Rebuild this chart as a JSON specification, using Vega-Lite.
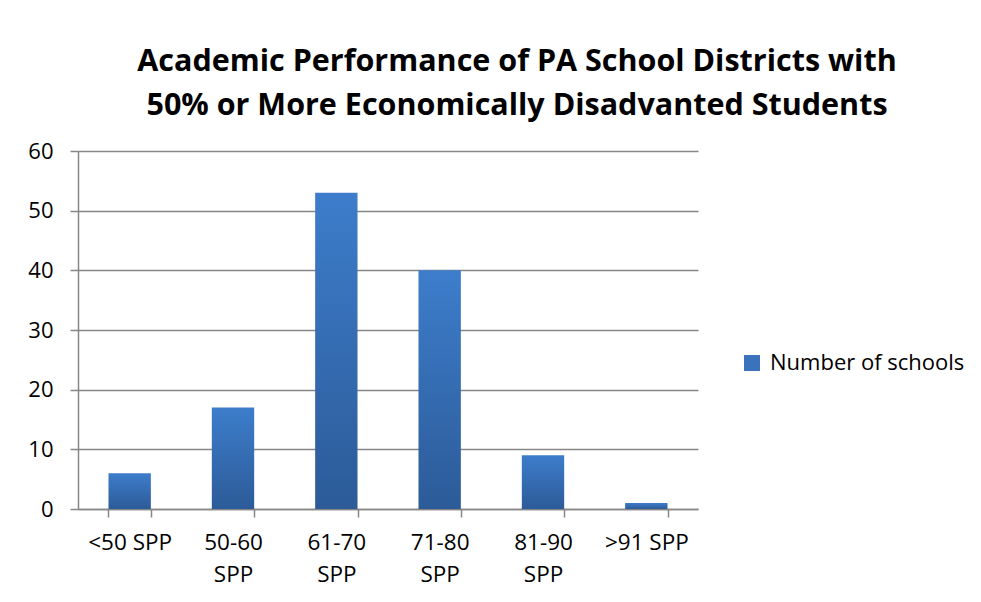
{
  "$schema": "https://vega.github.io/schema/vega-lite/v6.json",
  "autosize": "none",
  "width": 620,
  "height": 358,
  "padding": {"left": 78, "top": 151, "right": 283, "bottom": 93},
  "background": "white",
  "title": {
    "text": ["Academic Performance of PA School Districts with", "50% or More Economically Disadvanted Students"],
    "font": "Open Sans",
    "fontSize": 30.5,
    "fontWeight": "bold",
    "color": "#000000",
    "anchor": "middle",
    "frame": "group",
    "dx": 129,
    "offset": 19,
    "lineHeight": 44
  },
  "data": {
    "values": [
      {"category": "<50 SPP", "count": 6},
      {"category": "50-60 SPP", "count": 17},
      {"category": "61-70 SPP", "count": 53},
      {"category": "71-80 SPP", "count": 40},
      {"category": "81-90 SPP", "count": 9},
      {"category": ">91 SPP", "count": 1}
    ]
  },
  "mark": {
    "type": "bar",
    "fill": {"gradient": "linear", "x1": 0, "y1": 0, "x2": 0, "y2": 1,
             "stops": [{"offset": 0, "color": "#3d7dcb"}, {"offset": 1, "color": "#2c5b98"}]}
  },
  "encoding": {
    "x": {
      "field": "category",
      "type": "nominal",
      "sort": null,
      "scale": {"paddingInner": 0.59, "paddingOuter": 0.295},
      "axis": {
        "title": null,
        "labelAngle": 0,
        "labelFont": "Open Sans",
        "labelFontSize": 22.5,
        "labelColor": "#000000",
        "labelPadding": 14,
        "labelLineHeight": 32,
        "labelExpr": "(datum.label == '<50 SPP' || datum.label == '>91 SPP') ? datum.label : split(datum.label, ' ')",
        "tickBand": "extent",
        "tickSize": 8,
        "tickColor": "#868686",
        "tickWidth": 1.5,
        "domainColor": "#868686",
        "domainWidth": 1.5,
        "grid": false
      }
    },
    "y": {
      "field": "count",
      "type": "quantitative",
      "scale": {"domain": [0, 60], "nice": false},
      "axis": {
        "title": null,
        "values": [0, 10, 20, 30, 40, 50, 60],
        "labelFont": "Open Sans",
        "labelFontSize": 22,
        "labelColor": "#000000",
        "labelPadding": 17,
        "tickSize": 8,
        "tickColor": "#868686",
        "tickWidth": 1.5,
        "domainColor": "#868686",
        "domainWidth": 1.5,
        "grid": true,
        "gridColor": "#868686",
        "gridWidth": 1.5
      }
    },
    "color": {
      "datum": "Number of schools",
      "type": "nominal",
      "scale": {"range": ["#3a72bb"]},
      "legend": {
        "title": null,
        "orient": "none",
        "legendX": 663,
        "legendY": 201,
        "symbolType": "square",
        "symbolSize": 256,
        "symbolStrokeWidth": 0,
        "labelFont": "Open Sans",
        "labelFontSize": 22,
        "labelColor": "#000000",
        "labelOffset": 7,
        "labelLimit": 300
      }
    }
  },
  "config": {
    "view": {"stroke": null}
  }
}
